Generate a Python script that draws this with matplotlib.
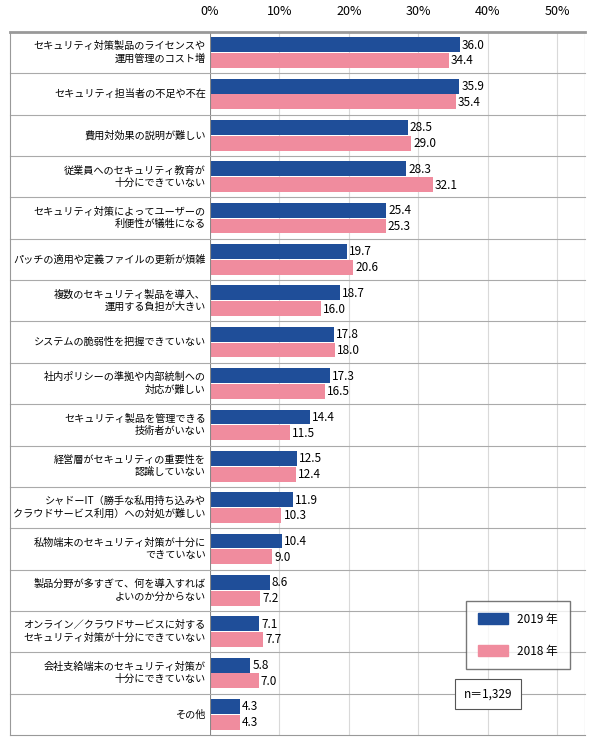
import matplotlib
matplotlib.use("Agg")
import matplotlib.pyplot as plt
import numpy as np
from matplotlib.patches import Patch

plt.rcParams['font.family'] = ['Noto Sans CJK JP', 'DejaVu Sans']

categories = ["セキュリティ対策製品のライセンスや\n運用管理のコスト増", "セキュリティ担当者の不足や不在",
    "費用対効果の説明が難しい", "従業員へのセキュリティ教育が\n十分にできていない",
    "セキュリティ対策によってユーザーの\n利便性が犠牲になる", "パッチの適用や定義ファイルの更新が煩雑",
    "複数のセキュリティ製品を導入、\n運用する負担が大きい", "システムの脆弱性を把握できていない",
    "社内ポリシーの準拠や内部統制への\n対応が難しい", "セキュリティ製品を管理できる\n技術者がいない",
    "経営層がセキュリティの重要性を\n認識していない", "シャドーIT（勝手な私用持ち込みや\nクラウドサービス利用）への対処が難しい",
    "私物端末のセキュリティ対策が十分に\nできていない", "製品分野が多すぎて、何を導入すれば\nよいのか分からない",
    "オンライン／クラウドサービスに対する\nセキュリティ対策が十分にできていない",
    "会社支給端末のセキュリティ対策が\n十分にできていない", "その他"]
v2019 = [36.0, 35.9, 28.5, 28.3, 25.4, 19.7, 18.7, 17.8, 17.3, 14.4, 12.5, 11.9, 10.4, 8.6, 7.1, 5.8, 4.3]
v2018 = [34.4, 35.4, 29.0, 32.1, 25.3, 20.6, 16.0, 18.0, 16.5, 11.5, 12.4, 10.3, 9.0, 7.2, 7.7, 7.0, 4.3]
ticks = [0, 10, 20, 30, 40, 50]

blue, pink = "#1f4e99", "#f08c9e"
fig = plt.figure(figsize=(5.9, 7.43), dpi=100)
ax = fig.add_axes([210/590, 1-735/743, 375/590, 703/743])
n = len(categories)
y = np.arange(n)
h = 0.36
ax.barh(y - h/2 - 0.01, v2019, height=h, color=blue)
ax.barh(y + h/2 + 0.01, v2018, height=h, color=pink)
for i in range(n):
    ax.text(v2019[i] + 0.3, y[i] - h/2, f"{v2019[i]:.1f}", va="center", fontsize=8.5)
    ax.text(v2018[i] + 0.3, y[i] + h/2 + 0.02, f"{v2018[i]:.1f}", va="center", fontsize=8.5)
    ax.text(-0.6, y[i], categories[i], ha="right", va="center", fontsize=7.3, linespacing=1.3)
ax.set_ylim(n - 0.5, -0.5)
ax.set_xlim(0, 375/69.4*10)
ax.set_yticks([])
ax.set_xticks(ticks)
ax.set_xticklabels([f"{t}%" for t in ticks], fontsize=9)
ax.xaxis.tick_top()
ax.tick_params(axis='x', length=0, pad=10)
for t in ticks[1:]:
    ax.axvline(t, color="#d9d9d9", lw=0.8, zorder=0)
ax.axvline(0, color="#888888", lw=0.8)
xm = -200/375
for i in range(1, n):
    ax.axhline(i - 0.5, xmin=xm, xmax=1, color="#aaaaaa", lw=0.8, clip_on=False)
for s in ax.spines.values():
    s.set_visible(False)
ax.axhline(-0.5, xmin=xm, xmax=1, color="#999999", lw=2, clip_on=False)
ax.axhline(n - 0.5, xmin=xm, xmax=1, color="#999999", lw=0.8, clip_on=False)
ax.axvline(ax.get_xlim()[1], color="#999999", lw=0.8)
ax.plot([xm, xm], [0, 1], transform=ax.transAxes, color="#999999", lw=0.8, clip_on=False)

leg = ax.legend(handles=[Patch(color=blue, label="2019 年"), Patch(color=pink, label="2018 年")],
                loc="lower right", bbox_to_anchor=(0.975, 0.085), fontsize=8.5, frameon=True,
                fancybox=False, edgecolor="#555555", handlelength=2.5, handleheight=1.1,
                borderpad=1.0, labelspacing=1.6)
fig.text(488/590, 1-694/743, "n＝1,329", ha="center", va="center", fontsize=8.5,
         bbox=dict(boxstyle="square,pad=0.7", fc="white", ec="#555555", lw=0.8))
fig.savefig("out.png", dpi=100)
